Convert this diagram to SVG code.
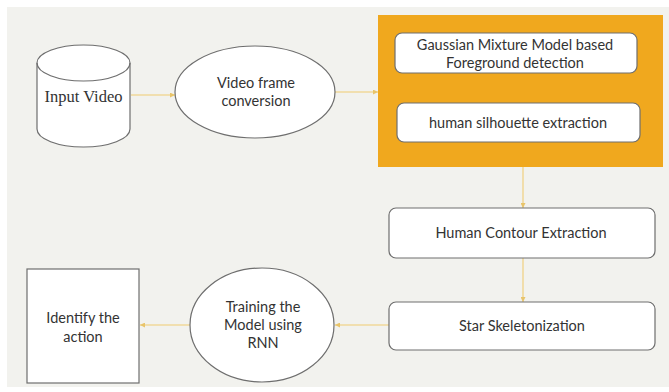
<svg xmlns="http://www.w3.org/2000/svg" width="669" height="392" viewBox="0 0 669 392">
<style>
.node{fill:#ffffff;stroke:#6e6e6e;stroke-width:1.2}
.lbl{font-family:Lato,"Open Sans","Liberation Sans",sans-serif;font-size:14.5px;fill:#333333;text-anchor:middle}
.ser{font-family:"Liberation Serif","DejaVu Serif",serif;font-size:16.5px;fill:#333333;text-anchor:middle}
.edge{stroke:#f0d89a;stroke-width:1.6;fill:none;marker-end:url(#ah)}
</style>
<defs>
<marker id="ah" viewBox="0 0 6 6" refX="6" refY="3" markerWidth="5" markerHeight="5" orient="auto" markerUnits="userSpaceOnUse">
<path d="M0,0 L6,3 L0,6 z" fill="#e8c46a"/>
</marker>
</defs>
<rect x="0" y="0" width="669" height="392" fill="#ffffff"/>
<rect x="7" y="7" width="662" height="380" fill="#f2f2ee"/>
<g id="connectors">
<line class="edge" x1="131" y1="95" x2="175" y2="95"/>
<line class="edge" x1="335" y1="92" x2="378" y2="92"/>
<line class="edge" x1="523" y1="167" x2="523" y2="208"/>
<line class="edge" x1="523" y1="258" x2="523" y2="302"/>
<line class="edge" x1="389" y1="325" x2="335" y2="325"/>
<line class="edge" x1="190" y1="325" x2="140" y2="325"/>
</g>
<g id="input-video">
<path class="node" d="M37,63 L37,129 A46.5,18 0 0 0 130,129 L130,63 A46.5,18 0 0 0 37,63 Z"/>
<path d="M37,63 A46.5,18 0 0 0 130,63" fill="none" stroke="#6e6e6e" stroke-width="1.2"/>
<text class="ser" x="83.5" y="102">Input Video</text>
</g>
<g id="video-frame">
<ellipse class="node" cx="255" cy="92" rx="80" ry="46"/>
<text class="lbl" x="256" y="88">Video frame</text>
<text class="lbl" x="256" y="106">conversion</text>
</g>
<g id="foreground-group">
<rect x="378" y="15" width="285" height="152" fill="#f0a81e"/>
</g>
<g id="gmm">
<rect class="node" x="395" y="33" width="242" height="40" rx="7" stroke="#7a5a20"/>
<text class="lbl" x="515" y="50">Gaussian Mixture Model based</text>
<text class="lbl" x="515" y="68">Foreground detection</text>
</g>
<g id="silhouette">
<rect class="node" x="397" y="103" width="243" height="39" rx="7" stroke="#7a5a20"/>
<text class="lbl" x="518" y="128">human silhouette extraction</text>
</g>
<g id="contour">
<rect class="node" x="389" y="208" width="266" height="50" rx="7"/>
<text class="lbl" x="521" y="238">Human Contour Extraction</text>
</g>
<g id="star">
<rect class="node" x="389" y="302" width="266" height="48" rx="7"/>
<text class="lbl" x="522" y="331">Star Skeletonization</text>
</g>
<g id="rnn">
<ellipse class="node" cx="262" cy="325" rx="72" ry="57"/>
<text class="lbl" x="263" y="312">Training the</text>
<text class="lbl" x="263" y="330">Model using</text>
<text class="lbl" x="263" y="348">RNN</text>
</g>
<g id="identify">
<rect class="node" x="27" y="269" width="112" height="114"/>
<text class="lbl" x="83" y="323">Identify the</text>
<text class="lbl" x="83" y="342">action</text>
</g>
</svg>
